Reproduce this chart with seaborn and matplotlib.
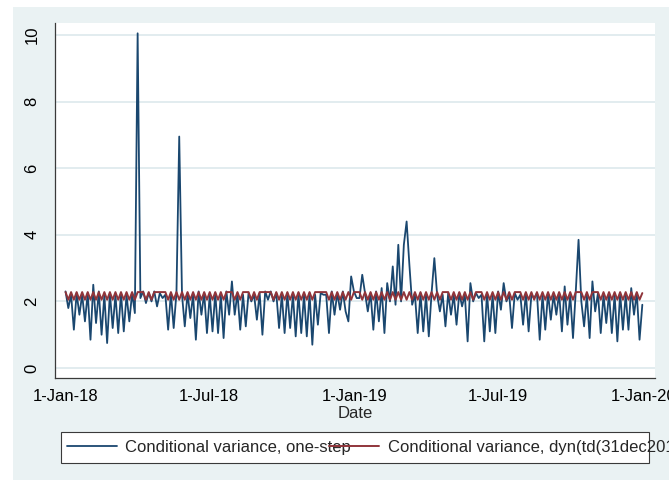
import numpy as np
import pandas as pd
import matplotlib
matplotlib.use("Agg")
import matplotlib.pyplot as plt
import matplotlib.dates as mdates
from matplotlib.patches import Rectangle
import seaborn as sns

# Weekly readings of the conditional variance: value at the start of each week
# and value in the middle of the week (2018-01-01 .. 2019-12-30).
onestep_wk_start = [
    2.3, 2.2, 2.25, 2.2, 2.25, 2.5, 2.3, 2.2, 2.25, 2.2,
    2.25, 2.2, 2.25, 10.05, 2.3, 2.25, 2.3, 2.25, 2.2, 2.25,
    2.25, 2.2, 2.25, 2.2, 2.3, 2.25, 2.2, 2.25, 2.2, 2.3,
    2.6, 2.25, 2.2, 2.25, 2.2, 2.25, 2.3, 2.3, 2.25, 2.2,
    2.25, 2.2, 2.25, 2.2, 2.25, 2.2, 2.25, 2.2, 2.3, 2.25,
    2.3, 1.4, 2.3, 2.1, 2.25, 2.25, 2.3, 2.4, 2.55, 3.05,
    3.7, 3.7, 3.1, 2.2, 2.25, 2.2, 2.25, 2.2, 2.2, 2.25,
    2.2, 2.25, 2.2, 2.55, 2.25, 2.2, 2.25, 2.2, 2.3, 2.55,
    2.2, 2.25, 2.2, 2.25, 2.2, 2.25, 2.2, 2.25, 2.2, 2.25,
    2.45, 2.2, 2.3, 2.0, 2.2, 2.6, 2.25, 2.2, 2.25, 2.2,
    2.25, 2.2, 2.4, 2.25, 1.9,
]
onestep_wk_mid = [
    1.8, 1.15, 1.6, 1.4, 0.85, 1.35, 1.0, 0.75, 1.2, 1.05,
    1.1, 1.4, 1.65, 2.1, 1.95, 2.0, 1.85, 2.1, 1.15, 1.2,
    6.95, 1.25, 1.5, 0.85, 1.6, 1.05, 1.1, 1.05, 0.9, 1.6,
    1.6, 1.15, 1.25, 2.0, 1.45, 1.0, 2.05, 2.0, 1.2, 1.05,
    1.2, 0.95, 1.05, 0.95, 0.7, 1.3, 2.2, 1.05, 1.6, 1.75,
    1.7, 2.75, 2.1, 2.8, 1.7, 1.15, 1.4, 1.05, 2.0, 1.9,
    2.0, 4.4, 1.9, 1.05, 1.1, 0.95, 3.3, 1.7, 1.25, 1.6,
    1.3, 1.85, 0.8, 2.0, 2.1, 0.8, 1.1, 1.05, 1.75, 2.0,
    1.2, 2.05, 1.3, 1.1, 2.1, 0.85, 1.15, 1.45, 1.6, 1.1,
    1.3, 0.9, 3.85, 1.25, 0.9, 1.7, 1.05, 1.35, 1.05, 0.8,
    1.15, 1.15, 1.6, 0.85,
]
dynamic_wk_start = [2.28] * 104 + [2.25]
dynamic_wk_mid = [
    2.05, 2.05, 2.05, 2.05, 2.05, 2.05, 2.05, 2.05, 2.05, 2.05,
    2.05, 2.05, 2.05, 2.28, 2.05, 2.05, 2.28, 2.28, 2.05, 2.05,
    2.05, 2.05, 2.05, 2.05, 2.05, 2.05, 2.05, 2.05, 2.05, 2.28,
    2.05, 2.05, 2.28, 2.05, 2.05, 2.28, 2.28, 2.05, 2.05, 2.05,
    2.05, 2.05, 2.05, 2.05, 2.05, 2.28, 2.28, 2.05, 2.05, 2.05,
    2.05, 2.05, 2.28, 2.05, 2.05, 2.05, 2.05, 2.05, 2.05, 2.05,
    2.05, 2.05, 2.05, 2.05, 2.05, 2.05, 2.05, 2.05, 2.28, 2.05,
    2.05, 2.05, 2.05, 2.05, 2.28, 2.05, 2.05, 2.05, 2.05, 2.05,
    2.05, 2.28, 2.05, 2.05, 2.05, 2.05, 2.05, 2.05, 2.05, 2.05,
    2.05, 2.05, 2.28, 2.05, 2.05, 2.28, 2.05, 2.05, 2.05, 2.05,
    2.05, 2.05, 2.05, 2.05,
]

xtick_dates = ["2018-01-01", "2018-07-01", "2019-01-01", "2019-07-01", "2020-01-01"]
xtick_labels = ["1-Jan-18", "1-Jul-18", "1-Jan-19", "1-Jul-19", "1-Jan-20"]
ytick_values = [0, 2, 4, 6, 8, 10]
label_onestep = "Conditional variance, one-step"
label_dynamic = "Conditional variance, dyn(td(31dec2017))"


def interleave(starts, mids):
    out = []
    for i, s in enumerate(starts):
        out.append(s)
        if i < len(mids):
            out.append(mids[i])
    return out


onestep = interleave(onestep_wk_start, onestep_wk_mid)
dynamic = interleave(dynamic_wk_start, dynamic_wk_mid)
dates = pd.date_range("2018-01-01", periods=len(onestep), freq="84h")
df = pd.DataFrame({"Date": dates, "onestep": onestep, "dynamic": dynamic})

sns.set_style("white")
plt.rcParams["font.family"] = ["Liberation Sans", "DejaVu Sans"]
plt.rcParams["font.size"] = 12

W, H = 669, 483
fig = plt.figure(figsize=(W / 100, H / 100), dpi=100)
fig.patch.set_facecolor("white")
# light graph region behind the plot
fig.patches.append(Rectangle((13 / W, 1 - 480 / H), 1 - 13 / W, (480 - 7) / H,
                             transform=fig.transFigure, facecolor="#EAF2F3",
                             edgecolor="none", zorder=-5))

ax = fig.add_axes([54.6 / W, 1 - 378 / H, (655 - 54.6) / W, (378 - 23) / H])
ax.set_zorder(1)
ax.set_facecolor("white")

navy = "#1A476F"
maroon = "#90353B"
sns.lineplot(data=df, x="Date", y="onestep", ax=ax, color=navy, lw=1.3,
             label=label_onestep, legend=False)
sns.lineplot(data=df, x="Date", y="dynamic", ax=ax, color=maroon, lw=1.4,
             label=label_dynamic, legend=False)

ax.set_ylim(-0.30, 10.36)
ax.set_xlim(pd.Timestamp("2018-01-01") - pd.Timedelta(days=13.8),
            pd.Timestamp("2018-01-01") + pd.Timedelta(days=744))
ax.set_yticks(ytick_values)
ax.set_yticklabels([str(v) for v in ytick_values], rotation=90, va="center")
ax.set_xticks([mdates.date2num(pd.Timestamp(d)) for d in xtick_dates])
ax.set_xticklabels(xtick_labels)
ax.set_xlabel("Date", labelpad=1)
ax.set_ylabel("")

ax.grid(axis="y", color="#DDE9EC", lw=1.2)
ax.grid(axis="x", visible=False)
for side in ["top", "right"]:
    ax.spines[side].set_visible(False)
for side in ["left", "bottom"]:
    ax.spines[side].set_color("#3a3a3a")
    ax.spines[side].set_linewidth(0.9)
ax.tick_params(axis="both", direction="out", length=5, width=0.8,
               color="#3a3a3a", labelcolor="black")
ax.tick_params(axis="y", pad=6)
ax.tick_params(axis="x", pad=3)

# legend frame and entries
fig.patches.append(Rectangle((60.6 / W, 1 - 463 / H), (649 - 60.6) / W, 31 / H,
                             transform=fig.transFigure, facecolor="white",
                             edgecolor="#3a3a3a", lw=0.8, zorder=2))
handles, labels = ax.get_legend_handles_labels()
leg = fig.legend(handles, labels, ncol=2, frameon=False,
                 loc="center left", bbox_to_anchor=(67 / W, 1 - 447.5 / H),
                 handlelength=3.0, handletextpad=0.5, columnspacing=-1.3,
                 borderaxespad=0, borderpad=0)
leg.set_zorder(3)

fig.savefig("out.png", dpi=100)
